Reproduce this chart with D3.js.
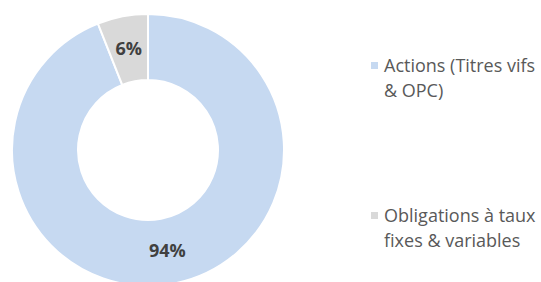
<!DOCTYPE html>
<html lang="en">
<head>
    <meta charset="UTF-8">
    <title>Répartition</title>
    <script src="https://d3js.org/d3.v7.min.js"></script>
    <style>
        body { margin: 0; background: #fff; }
        svg { display: block; }
    </style>
</head>
<body>
    <div id="chart"></div>
    <script>
        const categories = ["Actions (Titres vifs & OPC)", "Obligations à taux fixes & variables"];
        const legendLines = [["Actions (Titres vifs", "& OPC)"], ["Obligations à taux", "fixes & variables"]];
        const values = [94, 6];
        const colors = ["#c6d9f1", "#d9d9d9"];

        const width = 541, height = 282;
        const cx = 148, cy = 150;
        const outerR = 136, innerR = 70;

        const svg = d3.select("#chart")
            .append("svg")
            .attr("width", width)
            .attr("height", height);

        const pie = d3.pie().sort(null).value(d => d);
        const arcs = pie(values);

        const arc = d3.arc().innerRadius(innerR).outerRadius(outerR);
        const labelArc = d3.arc().innerRadius((innerR + outerR) / 2).outerRadius((innerR + outerR) / 2);

        const g = svg.append("g").attr("transform", `translate(${cx},${cy})`);

        g.selectAll("path")
            .data(arcs)
            .join("path")
            .attr("d", arc)
            .attr("fill", (d, i) => colors[i])
            .attr("stroke", "#fff")
            .attr("stroke-width", 2);

        g.selectAll("text")
            .data(arcs)
            .join("text")
            .attr("transform", d => `translate(${labelArc.centroid(d)})`)
            .attr("text-anchor", "middle")
            .attr("dy", "0.35em")
            .attr("font-family", "Open Sans, sans-serif")
            .attr("font-size", 18)
            .attr("font-weight", "bold")
            .attr("fill", "#404040")
            .text(d => d.data + "%");

        // legend
        const legendY = [66, 216];
        const legend = svg.selectAll("g.legend")
            .data(categories)
            .join("g")
            .attr("class", "legend")
            .attr("transform", (d, i) => `translate(371,${legendY[i]})`);

        legend.append("rect")
            .attr("x", 0)
            .attr("y", -4)
            .attr("width", 7)
            .attr("height", 7)
            .attr("fill", (d, i) => colors[i]);

        legend.append("text")
            .attr("font-family", "Open Sans, sans-serif")
            .attr("font-size", 18)
            .attr("fill", "#595959")
            .selectAll("tspan")
            .data((d, i) => legendLines[i])
            .join("tspan")
            .attr("x", 13)
            .attr("y", (d, j) => j * 24.5)
            .attr("dy", "0.35em")
            .text(d => d);
    </script>
</body>
</html>
